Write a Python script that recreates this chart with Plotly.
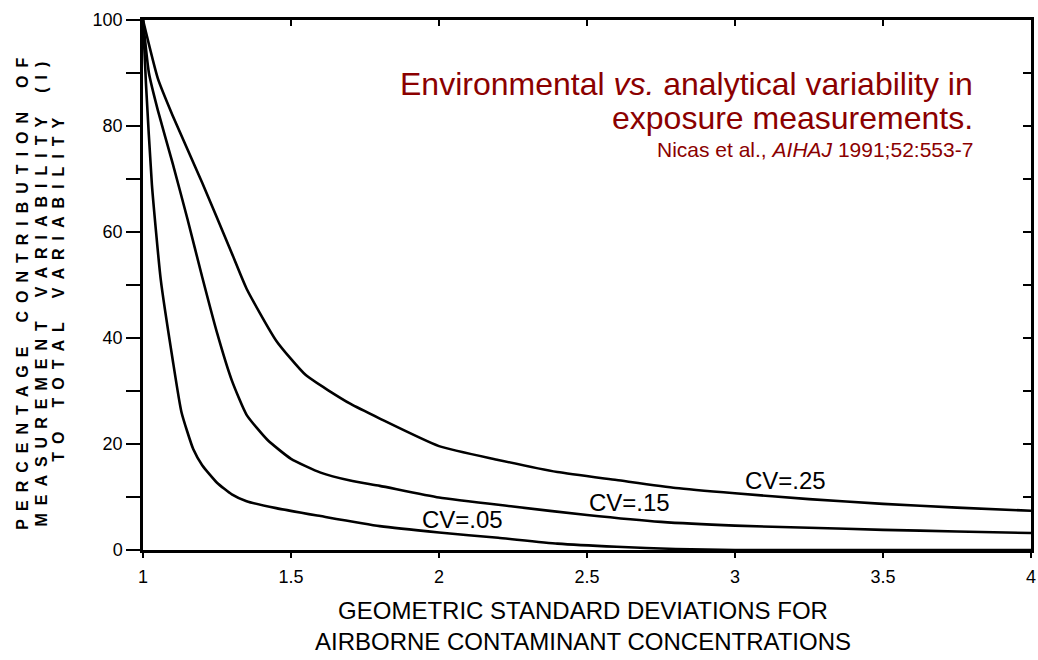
import plotly.graph_objects as go

# Geometric standard deviation (x) and % contribution (y) for each CV curve
x_cv05 = [1.0, 1.01, 1.03, 1.06, 1.1, 1.13, 1.17, 1.2, 1.25, 1.3, 1.35, 1.45, 1.6, 1.8, 2.0, 2.2, 2.4, 2.6, 2.8, 3.0, 3.5, 4.0]
y_cv05 = [100, 88, 69, 51, 36, 26, 19, 16, 12.7, 10.5, 9.2, 7.9, 6.4, 4.5, 3.3, 2.3, 1.2, 0.6, 0.2, 0, 0, 0]

x_cv15 = [1.0, 1.02, 1.05, 1.1, 1.15, 1.2, 1.25, 1.3, 1.35, 1.42, 1.5, 1.6, 1.7, 1.8, 2.0, 2.25, 2.5, 2.75, 3.0, 3.25, 3.5, 3.75, 4.0]
y_cv15 = [100, 90, 83, 73, 62.5, 51.5, 41, 32, 25.5, 20.8, 17.2, 14.6, 13.1, 12.1, 9.9, 8.2, 6.6, 5.3, 4.6, 4.2, 3.8, 3.5, 3.2]

x_cv25 = [1.0, 1.05, 1.1, 1.2, 1.3, 1.35, 1.45, 1.55, 1.7, 1.8, 2.0, 2.2, 2.4, 2.6, 2.8, 3.0, 3.25, 3.5, 3.75, 4.0]
y_cv25 = [100, 89, 82, 69.3, 56, 49.3, 39.5, 33, 27.6, 24.8, 19.6, 17.0, 14.7, 13.2, 11.7, 10.7, 9.6, 8.7, 8.0, 7.4]

curve_labels = ["CV=.05", "CV=.15", "CV=.25"]
label_x = [2.078, 2.643, 3.170]
label_y = [5.85, 8.96, 13.1]

x_tickvals = [1, 1.5, 2, 2.5, 3, 3.5, 4]
x_ticktext = ["1", "1.5", "2", "2.5", "3", "3.5", "4"]
y_tickvals = [0, 10, 20, 30, 40, 50, 60, 70, 80, 90, 100]
y_ticktext = ["0", "", "20", "", "40", "", "60", "", "80", "", "100"]

title_lines = ["Environmental <i>vs.</i> analytical variability in",
               "exposure measurements.",
               "Nicas et al., <i>AIHAJ</i> 1991;52:553-7"]
xtitle = "GEOMETRIC STANDARD DEVIATIONS FOR<br>AIRBORNE CONTAMINANT CONCENTRATIONS"
ytitle_lines = ["PERCENTAGE CONTRIBUTION OF",
                "MEASUREMENT VARIABILITY (I)",
                "TO TOTAL VARIABILITY"]

FONT = "Arial, Liberation Sans, Helvetica, sans-serif"
RED = "#8B0000"


def spaced(s):
    words = s.split(" ")
    return "\u2002\u2002\u2002".join("\u2002".join(list(w)) for w in words)


fig = go.Figure()
for xs, ys in [(x_cv05, y_cv05), (x_cv15, y_cv15), (x_cv25, y_cv25)]:
    fig.add_trace(go.Scatter(x=xs, y=ys, mode="lines",
                             line=dict(color="black", width=2.6, shape="spline", smoothing=0.5),
                             cliponaxis=False, showlegend=False, hoverinfo="skip"))

# invisible trace to host the mirrored (top/right) axes
fig.add_trace(go.Scatter(x=[None], y=[None], xaxis="x2", yaxis="y2", showlegend=False, hoverinfo="skip"))

axis_common = dict(showgrid=False, zeroline=False, showline=True, linecolor="black", linewidth=2.5)

fig.update_layout(
    width=1038, height=660,
    margin=dict(l=143, r=2, t=20, b=110),
    paper_bgcolor="white", plot_bgcolor="white",
    font=dict(family=FONT, color="black"),
    xaxis=dict(range=[1, 4], tickvals=x_tickvals, ticktext=x_ticktext, ticks="outside",
               ticklen=5, tickwidth=1.5, tickcolor="black", ticklabelstandoff=4,
               ticklabeloverflow="allow",
               tickfont=dict(size=18, family=FONT, color="black"), **axis_common),
    yaxis=dict(range=[0, 100], tickvals=y_tickvals, ticktext=y_ticktext, ticks="outside",
               ticklen=14, tickwidth=1.5, tickcolor="black",
               tickfont=dict(size=18, family=FONT, color="black"), **axis_common),
    xaxis2=dict(range=[1, 4], overlaying="x", side="top", anchor="y", tickvals=x_tickvals,
                showticklabels=False, ticks="inside", ticklen=6, tickwidth=1.5, tickcolor="black",
                **axis_common),
    yaxis2=dict(range=[0, 100], overlaying="y", side="right", anchor="x", tickvals=y_tickvals,
                showticklabels=False, ticks="inside", ticklen=8, tickwidth=1.5, tickcolor="black",
                **axis_common),
)

annotations = []
for t, x, y in zip(curve_labels, label_x, label_y):
    annotations.append(dict(x=x, y=y, xref="x", yref="y", text=t, showarrow=False,
                            xanchor="center", yanchor="middle",
                            font=dict(size=24, family=FONT, color="black")))

title_y = [88.0, 81.5, 75.5]
title_size = [32, 32, 21]
for t, y, s in zip(title_lines, title_y, title_size):
    annotations.append(dict(x=3.812, y=y, xref="x", yref="y", text=t, showarrow=False,
                            xanchor="right", yanchor="middle",
                            font=dict(size=s, family=FONT, color=RED)))

annotations.append(dict(x=0.496, y=-0.143, xref="paper", yref="paper", text=xtitle,
                        showarrow=False, xanchor="center", yanchor="middle", align="center",
                        font=dict(size=24, family=FONT, color="black")))

ytitle_x = [-0.1366, -0.1153, -0.0952]
ytitle_y = [0.483, 0.483, 0.492]
for t, x, y in zip(ytitle_lines, ytitle_x, ytitle_y):
    annotations.append(dict(x=x, y=y, xref="paper", yref="paper", text="<b>" + spaced(t) + "</b>",
                            showarrow=False, textangle=-90, xanchor="center", yanchor="middle",
                            font=dict(size=16, family=FONT, color="black")))

fig.update_layout(annotations=annotations)
fig.write_html("out.html", config={"displayModeBar": False})

# remove the default page margin so the figure sits at the window's top-left corner
with open("out.html", "r", encoding="utf-8") as f:
    html = f.read()
html = html.replace("<body>", '<body style="margin:0;padding:0;overflow:hidden;">', 1)
with open("out.html", "w", encoding="utf-8") as f:
    f.write(html)
